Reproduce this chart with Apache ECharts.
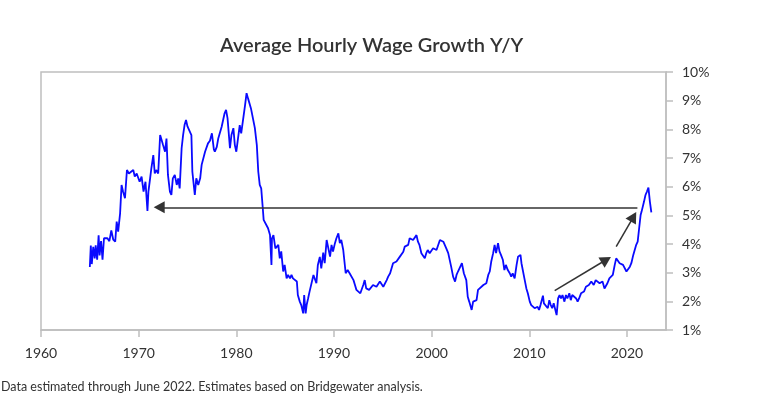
<!DOCTYPE html>
<html>
<head>
<meta charset="utf-8">
<script src="https://cdn.jsdelivr.net/npm/echarts@6/dist/echarts.min.js"></script>
<style>
  html, body { margin: 0; padding: 0; background: #fff; }
  #chart { width: 772px; height: 397px; }
</style>
</head>
<body>
<div id="chart"></div>
<script>
// decimal years
const years = [
  1965.0, 1965.1, 1965.2, 1965.35, 1965.5, 1965.6, 1965.75, 1965.9, 1966.0, 1966.15,
  1966.3, 1966.45, 1966.6, 1966.8, 1967.0, 1967.2, 1967.4, 1967.6, 1967.75, 1967.9,
  1968.1, 1968.25, 1968.4, 1968.6, 1968.8, 1969.0, 1969.2, 1969.45, 1969.6, 1969.8,
  1970.1, 1970.3, 1970.5, 1970.7, 1970.9, 1971.0, 1971.15, 1971.3, 1971.5, 1971.65,
  1971.8, 1972.0, 1972.2, 1972.35, 1972.5, 1972.7, 1972.85, 1973.0, 1973.2, 1973.35,
  1973.5, 1973.7, 1973.9, 1974.05, 1974.2, 1974.4, 1974.55, 1974.7, 1974.85, 1975.0,
  1975.2, 1975.4, 1975.5, 1975.75, 1975.9, 1976.1, 1976.3, 1976.45, 1976.8, 1977.1,
  1977.3, 1977.5, 1977.7, 1977.8, 1978.0, 1978.15, 1978.5, 1978.8, 1978.95, 1979.1,
  1979.35, 1979.5, 1979.7, 1979.85, 1980.0, 1980.35, 1980.5, 1980.7, 1980.9, 1981.05,
  1981.2, 1981.35, 1981.5, 1981.7, 1981.9, 1982.1, 1982.25, 1982.4, 1982.55, 1982.7,
  1982.8, 1983.0, 1983.25, 1983.45, 1983.6, 1983.65, 1983.8, 1984.0, 1984.3, 1984.45,
  1984.6, 1984.8, 1984.95, 1985.15, 1985.3, 1985.5, 1985.65, 1985.8, 1986.0, 1986.2,
  1986.3, 1986.5, 1986.65, 1986.85, 1986.95, 1987.1, 1987.2, 1987.35, 1987.5, 1987.9,
  1988.05, 1988.2, 1988.35, 1988.55, 1988.7, 1988.9, 1989.05, 1989.25, 1989.4, 1989.6,
  1989.75, 1989.9, 1990.1, 1990.25, 1990.45, 1990.6, 1990.75, 1990.95, 1991.2, 1991.4,
  1991.6, 1992.0, 1992.15, 1992.3, 1992.5, 1992.7, 1993.0, 1993.15, 1993.3, 1993.6,
  1994.0, 1994.35, 1994.7, 1995.05, 1995.4, 1995.55, 1995.75, 1996.05, 1996.4, 1996.75,
  1997.1, 1997.25, 1997.6, 1997.75, 1998.1, 1998.45, 1998.6, 1998.75, 1998.95, 1999.3,
  1999.45, 1999.6, 1999.8, 2000.15, 2000.5, 2000.65, 2000.85, 2001.0, 2001.2, 2001.35,
  2001.5, 2001.7, 2002.0, 2002.2, 2002.4, 2002.55, 2002.7, 2002.9, 2003.1, 2003.3,
  2003.55, 2003.7, 2003.85, 2004.1, 2004.25, 2004.4, 2004.6, 2004.75, 2004.95, 2005.3,
  2005.6, 2005.8, 2005.95, 2006.1, 2006.3, 2006.45, 2006.6, 2006.8, 2006.95, 2007.1,
  2007.3, 2007.45, 2007.6, 2007.8, 2008.0, 2008.15, 2008.3, 2008.5, 2008.7, 2008.85,
  2009.1, 2009.2, 2009.5, 2009.7, 2009.85, 2010.05, 2010.2, 2010.55, 2010.85, 2011.0,
  2011.15, 2011.4, 2011.5, 2011.65, 2011.9, 2012.05, 2012.2, 2012.35, 2012.5, 2012.8,
  2012.95, 2013.1, 2013.25, 2013.4, 2013.6, 2013.75, 2013.9, 2014.1, 2014.25, 2014.4,
  2014.8, 2014.95, 2015.1, 2015.3, 2015.6, 2015.8, 2016.1, 2016.35, 2016.6, 2016.8,
  2017.2, 2017.35, 2017.5, 2017.7, 2017.85, 2018.0, 2018.2, 2018.35, 2018.55, 2018.75,
  2018.9, 2019.05, 2019.25, 2019.4, 2019.6, 2019.75, 2019.95, 2020.1, 2020.3, 2020.45,
  2020.65, 2020.8, 2020.95, 2021.1, 2021.25, 2021.4, 2021.5, 2021.65, 2021.75, 2021.9,
  2022.05, 2022.2, 2022.35, 2022.5
];

// wage growth y/y, %
const wageGrowth = [
  3.2, 3.95, 3.3, 3.9, 3.5, 3.95, 3.45, 4.3, 3.6, 4.1,
  3.45, 4.2, 4.15, 4.2, 4.1, 4.47, 4.15, 4.08, 4.78, 4.43,
  5.07, 6.06, 5.83, 5.6, 6.58, 6.46, 6.5, 6.58, 6.35, 6.46,
  6.17, 6.35, 5.83, 6.17, 5.15, 5.83, 6.23, 6.64, 7.1, 6.46,
  6.58, 6.46, 7.8, 7.86, 7.45, 7.22, 7.68, 6.41, 5.83, 5.71,
  6.29, 6.41, 6.06, 6.29, 5.94, 7.34, 7.8, 8.15, 8.33, 8.1,
  8.15, 7.8, 6.52, 5.71, 6.29, 6.06, 6.29, 6.76, 7.22, 7.51,
  7.6, 7.86, 7.3, 7.22, 7.39, 7.68, 8.09, 8.56, 8.68, 8.39,
  7.34, 7.8, 8.04, 7.45, 7.22, 8.15, 7.86, 7.8, 8.85, 9.26,
  9.08, 9.02, 8.73, 8.79, 8.04, 7.45, 6.52, 6.06, 5.94, 5.3,
  4.84, 4.78, 4.55, 4.31, 3.27, 4.2, 4.31, 3.85, 3.97, 3.5,
  3.74, 3.04, 3.27, 2.8, 2.92, 2.8, 2.92, 2.8, 2.86, 2.69,
  2.22, 1.99, 1.87, 1.58, 2.22, 1.58, 1.87, 2.1, 2.34, 2.92,
  2.98, 2.63, 3.27, 3.55, 3.15, 3.7, 3.33, 4.14, 4.2, 3.56,
  3.97, 3.74, 4.03, 4.2, 4.37, 4.03, 4.14, 3.79, 2.98, 3.09,
  2.98, 2.74, 2.57, 2.4, 2.45, 2.28, 2.57, 2.74, 2.45, 2.4,
  2.57, 2.51, 2.69, 2.51, 2.74, 2.86, 2.98, 3.33, 3.39, 3.56,
  3.73, 3.91, 3.97, 4.2, 4.14, 4.31, 4.08, 3.97, 3.68, 3.5,
  3.68, 3.79, 3.68, 3.85, 3.79, 3.85, 4.14, 4.2, 4.08, 4.03,
  3.85, 3.68, 3.21, 2.86, 2.69, 2.92, 3.04, 3.09, 3.33, 2.98,
  2.74, 2.16, 1.99, 1.7, 1.99, 1.93, 2.04, 2.4, 2.45, 2.57,
  2.63, 2.92, 3.04, 3.38, 3.68, 3.97, 3.68, 4.03, 3.74, 3.62,
  3.44, 3.09, 3.27, 3.09, 2.98, 2.86, 2.98, 2.8, 3.27, 3.56,
  3.62, 3.33, 2.8, 2.45, 2.28, 1.99, 1.87, 1.76, 1.81, 1.7,
  1.87, 2.2, 1.93, 1.99, 1.76, 2.04, 1.87, 1.76, 1.93, 1.52,
  2.1, 2.22, 2.1, 2.22, 1.99, 2.22, 2.1, 2.28, 2.04, 2.22,
  2.1, 1.99, 2.1, 2.28, 2.34, 2.51, 2.57, 2.69, 2.57, 2.74,
  2.63, 2.57, 2.69, 2.45, 2.4, 2.63, 2.8, 2.86, 2.92, 3.27,
  3.5, 3.44, 3.33, 3.39, 3.27, 3.27, 3.04, 2.98, 3.21, 3.33,
  3.62, 3.68, 3.97, 4.08, 4.55, 5.01, 5.13, 5.07, 5.48, 5.71,
  5.83, 5.97, 5.48, 5.1
];

// annotation arrows [from, to] in data units (to = centre of the arrow head)
const arrowFrom = [[2021.07, 5.28], [2012.6, 2.37], [2018.9, 3.91]];
const arrowTo = [[1972.1, 5.28], [2017.88, 3.45], [2020.67, 4.95]];

const xTicks = { min: 1960, max: 2024, step: 10 };
const yTicks = { min: 1, max: 10, step: 1 };

const chart = echarts.init(document.getElementById('chart'));
const font = 'Lato, "Noto Sans", sans-serif';
const gray = '#bfbfbf';

chart.setOption({
  animation: false,
  title: {
    text: 'Average Hourly Wage Growth Y/Y',
    left: 215,
    top: 31,
    textStyle: { fontFamily: font, fontSize: 20, fontWeight: 600, color: '#333' }
  },
  grid: {
    left: 41, right: 106, top: 72, bottom: 67,
    show: true, borderColor: gray, borderWidth: 1.5
  },
  xAxis: {
    type: 'value',
    min: xTicks.min, max: xTicks.max, interval: xTicks.step,
    axisLine: { show: true, lineStyle: { color: gray, width: 1.5 } },
    axisTick: { show: true, length: 7, lineStyle: { color: gray, width: 1.5 } },
    axisLabel: {
      margin: 16, color: '#333', fontSize: 14, fontFamily: font, showMaxLabel: false,
      formatter: v => String(v)
    },
    splitLine: { show: false }
  },
  yAxis: {
    type: 'value',
    position: 'right',
    min: yTicks.min, max: yTicks.max, interval: yTicks.step,
    axisLine: { show: true, lineStyle: { color: gray, width: 1.5 } },
    axisTick: { show: true, length: 7, lineStyle: { color: gray, width: 1.5 } },
    axisLabel: { margin: 16, color: '#333', fontSize: 14, fontFamily: font, formatter: '{value}%' },
    splitLine: { show: false }
  },
  graphic: [{
    type: 'text',
    left: 1,
    top: 380,
    style: {
      text: 'Data estimated through June 2022. Estimates based on Bridgewater analysis.',
      font: '12.5px ' + font,
      fill: '#333'
    }
  }],
  series: [{
    type: 'line',
    data: years.map((y, i) => [y, wageGrowth[i]]),
    symbol: 'none',
    lineStyle: { color: '#0a0aff', width: 1.8 },
    markLine: {
      silent: true,
      symbol: ['none', 'triangle'],
      symbolSize: [12, 11],
      label: { show: false },
      lineStyle: { color: '#333', width: 1.5, type: 'solid' },
      data: arrowFrom.map((p, i) => [{ coord: p }, { coord: arrowTo[i] }])
    }
  }]
});
</script>
</body>
</html>
